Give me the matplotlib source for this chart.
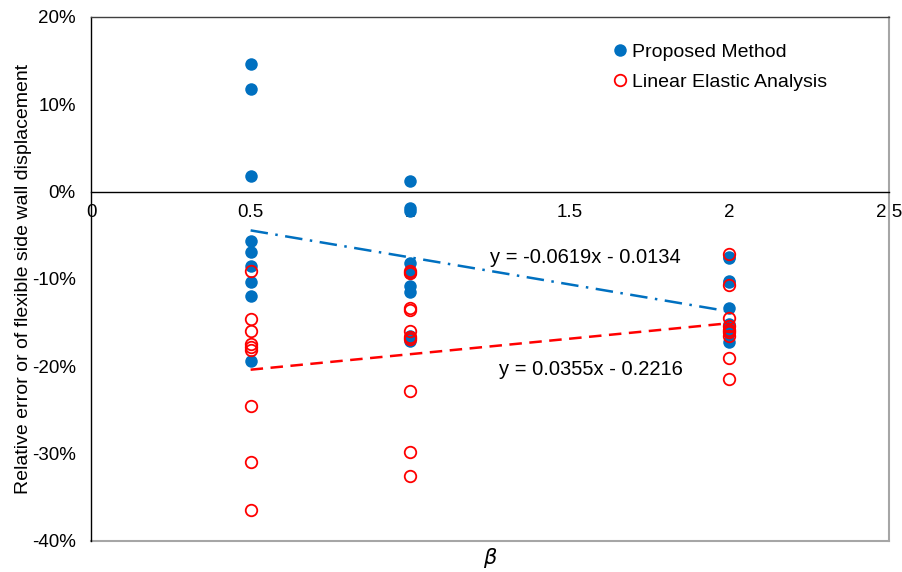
"""
Relative error of flexible side wall displacement vs beta
"""
import matplotlib
matplotlib.use('Agg')
import matplotlib.pyplot as plt
import numpy as np

plt.rcParams['font.family'] = ['Liberation Sans', 'DejaVu Sans']

# Proposed method (blue, filled)
proposed_x = [0.5] * 9 + [1] * 9 + [2] * 9
proposed_y = [0.146, 0.118, 0.018, -0.056, -0.069, -0.085, -0.104, -0.120, -0.194,
              0.0125, -0.019, -0.022, -0.082, -0.0926, -0.108, -0.115, -0.165, -0.171,
              -0.075, -0.076, -0.102, -0.103, -0.133, -0.152, -0.157, -0.162, -0.172]

# Linear elastic analysis (red, open)
linear_x = [0.5] * 9 + [1] * 10 + [2] * 9
linear_y = [-0.091, -0.146, -0.160, -0.1747, -0.1778, -0.1816, -0.2457, -0.309, -0.3648,
            -0.091, -0.0926, -0.1335, -0.1356, -0.1594, -0.166, -0.169, -0.228, -0.298, -0.3255,
            -0.071, -0.107, -0.145, -0.154, -0.158, -0.161, -0.165, -0.190, -0.215]

# Linear trend lines (slope, intercept) as printed on the chart
trend_proposed = (-0.0619, -0.0134)
trend_linear = (0.0355, -0.2216)
trend_range = [0.5, 2.0]

x_ticks = [0, 0.5, 1, 1.5, 2, 2.5]
x_tick_labels = ['0', '0.5', '1', '1.5', '2', '2.5']
y_ticks = [0.2, 0.1, 0.0, -0.1, -0.2, -0.3, -0.4]
y_tick_labels = ['20%', '10%', '0%', '-10%', '-20%', '-30%', '-40%']

blue = '#0070C0'
red = '#FF0000'

fig = plt.figure(figsize=(9.03, 5.72), dpi=100)
ax = fig.add_axes([0.1008, 0.0542, 0.8837, 0.9161])

ax.plot(proposed_x, proposed_y, 'o', color=blue, markersize=9, markeredgewidth=0,
        label='Proposed Method', zorder=3)
ax.plot(linear_x, linear_y, 'o', markerfacecolor='none', markeredgecolor=red,
        markersize=8.3, markeredgewidth=1.3, label='Linear Elastic Analysis', zorder=4)

# Trend lines
tx = np.array(trend_range)
ax.plot(tx, trend_proposed[0] * tx + trend_proposed[1], color=blue, lw=1.8,
        dashes=(7, 3, 1, 3), zorder=5)
ax.plot(tx, trend_linear[0] * tx + trend_linear[1], color=red, lw=1.8,
        dashes=(5, 3), zorder=5)

ax.text(1.55, -0.0755, 'y = -0.0619x - 0.0134', fontsize=14.5, ha='center', va='center')
ax.text(1.565, -0.2035, 'y = 0.0355x - 0.2216', fontsize=14.5, ha='center', va='center')

ax.set_xlim(0, 2.5)
ax.set_ylim(-0.4, 0.2)
ax.set_xticks(x_ticks)
ax.set_xticklabels(x_tick_labels)
ax.set_yticks(y_ticks)
ax.set_yticklabels(y_tick_labels)
ax.tick_params(axis='both', length=0, labelsize=13.5)
ax.tick_params(axis='y', pad=11)
ax.tick_params(axis='x', pad=9)

# x axis crosses at zero
ax.spines['bottom'].set_position(('data', 0))
ax.spines['bottom'].set_color('black')
ax.spines['bottom'].set_linewidth(1.0)
ax.spines['left'].set_color('black')
ax.spines['left'].set_linewidth(1.0)
ax.spines['top'].set_color('#404040')
ax.spines['top'].set_linewidth(1.0)
ax.spines['right'].set_color('#A6A6A6')
ax.spines['right'].set_linewidth(1.5)
# gray frame bottom edge
ax.axhline(-0.4, color='#A6A6A6', lw=1.5, clip_on=False, zorder=1)

ax.set_ylabel('Relative error or of flexible side wall displacement', fontsize=14)
ax.yaxis.set_label_coords(-0.0745, 0.5)
fig.text(0.5435, 0.024, r'$\beta$', fontsize=15, ha='center', va='center')

ax.legend(loc='upper left', bbox_to_anchor=(0.646, 0.964), frameon=False, fontsize=14,
          handlelength=0.6, handletextpad=0.3, labelspacing=0.6, borderaxespad=0)

plt.savefig('out.png', dpi=100)
plt.close()
